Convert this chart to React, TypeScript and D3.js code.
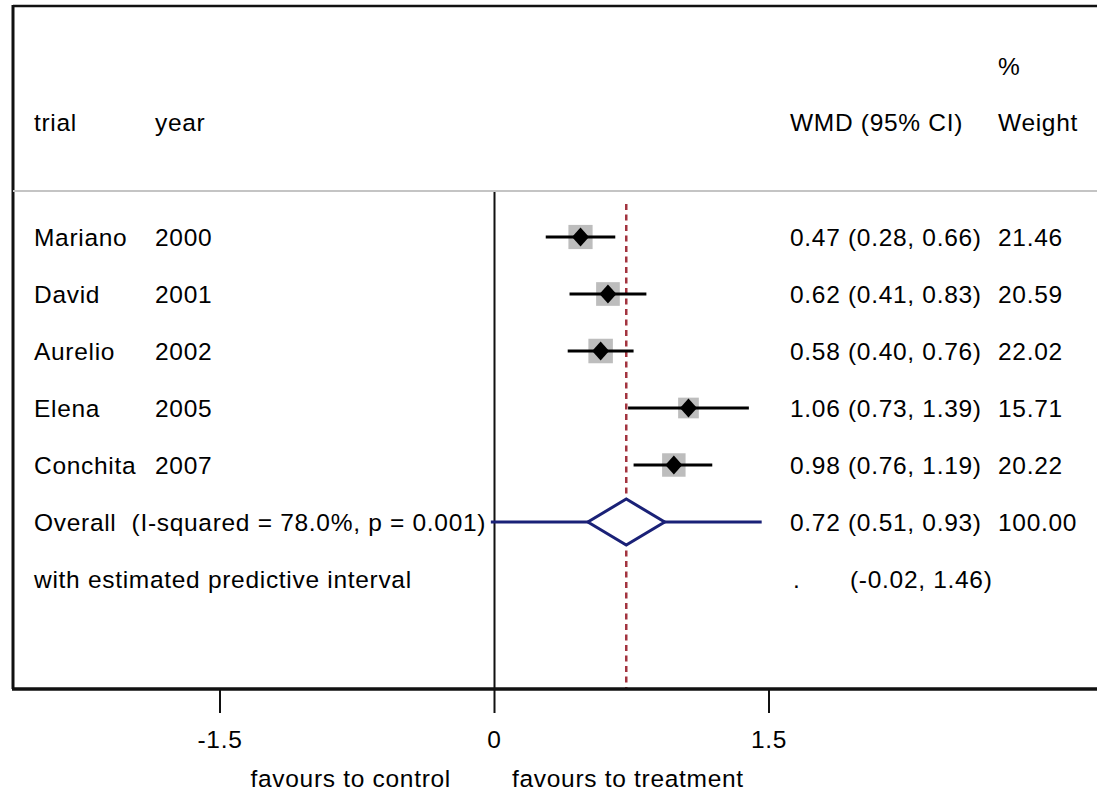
import React from "react";
import { scaleLinear, scaleSqrt, line } from "d3";

const trials = ["Mariano", "David", "Aurelio", "Elena", "Conchita"];
const years = [2000, 2001, 2002, 2005, 2007];
const wmd = [0.47, 0.62, 0.58, 1.06, 0.98];
const lower = [0.28, 0.41, 0.4, 0.73, 0.76];
const upper = [0.66, 0.83, 0.76, 1.39, 1.19];
const weights = [21.46, 20.59, 22.02, 15.71, 20.22];
const overall = [0.72, 0.51, 0.93];
const predictive = [-0.02, 1.46];
const tickValues = [-1.5, 0, 1.5];

const fmt = (v: number) => v.toFixed(2);

const W = 1097;
const H = 792;
const font = "'Liberation Sans', Arial, Helvetica, sans-serif";
const fs = 24.5;

const App = () => {
  const x = scaleLinear().domain([-1.5, 1.5]).range([220, 769]);
  const y = scaleLinear().domain([0, 6]).range([237, 579]);
  const box = scaleSqrt().domain([0, 22.02]).range([0, 24.5]);

  const axisY = 689;
  const ovY = y(5);
  const diamond = line()([
    [x(overall[1]), ovY],
    [x(overall[0]), ovY - 23],
    [x(overall[2]), ovY],
    [x(overall[0]), ovY + 23],
    [x(overall[1]), ovY],
  ]);

  const txt: React.CSSProperties = {
    fontFamily: font,
    fontSize: fs,
    fill: "#000",
    letterSpacing: 0.7,
    whiteSpace: "pre",
  };
  const dy = 8.5;

  return (
    <svg
      width={W}
      height={H}
      style={{ position: "absolute", left: 0, top: 0, background: "#fff" }}
    >
      {/* frame */}
      <line x1={13} x2={W} y1={6} y2={6} stroke="#111" strokeWidth={2.5} />
      <line x1={13} x2={13} y1={5} y2={axisY} stroke="#111" strokeWidth={3} />
      <line x1={13} x2={W} y1={191} y2={191} stroke="#c4c4c4" strokeWidth={2} />

      {/* headers */}
      <text x={998} y={66 + dy} style={txt}>%</text>
      <text x={34} y={122 + dy} style={txt}>trial</text>
      <text x={155} y={122 + dy} style={txt}>year</text>
      <text x={790} y={122 + dy} style={txt}>WMD (95% CI)</text>
      <text x={998} y={122 + dy} style={txt}>Weight</text>

      {/* null line */}
      <line x1={x(0)} x2={x(0)} y1={192} y2={axisY} stroke="#111" strokeWidth={2} />

      {/* overall effect dashed line */}
      <line
        x1={x(overall[0])}
        x2={x(overall[0])}
        y1={204}
        y2={axisY}
        stroke="#a3343f"
        strokeWidth={2.5}
        strokeDasharray="6 4.5"
      />

      {trials.map((t, i) => {
        const s = box(weights[i]);
        const cx = x(wmd[i]);
        const cy = y(i);
        return (
          <g key={t}>
            <rect x={cx - s / 2} y={cy - s / 2} width={s} height={s} fill="#bdbdbd" />
            <line x1={x(lower[i])} x2={x(upper[i])} y1={cy} y2={cy} stroke="#000" strokeWidth={3.2} />
            <path
              d={`M${cx - 8.5},${cy} L${cx},${cy - 9.5} L${cx + 8.5},${cy} L${cx},${cy + 9.5} Z`}
              fill="#000"
            />
            <text x={34} y={cy + dy} style={txt}>{t}</text>
            <text x={155} y={cy + dy} style={txt}>{years[i]}</text>
            <text x={790} y={cy + dy} style={txt}>
              {`${fmt(wmd[i])} (${fmt(lower[i])}, ${fmt(upper[i])})`}
            </text>
            <text x={998} y={cy + dy} style={txt}>{fmt(weights[i])}</text>
          </g>
        );
      })}

      {/* overall */}
      <line
        x1={x(predictive[0])}
        x2={x(predictive[1])}
        y1={ovY}
        y2={ovY}
        stroke="#1a2177"
        strokeWidth={3}
      />
      <path d={diamond ?? ""} fill="#fff" stroke="#1a2177" strokeWidth={3} />
      <text x={34} y={ovY + dy} style={txt}>{"Overall  (I-squared = 78.0%, p = 0.001)"}</text>
      <text x={790} y={ovY + dy} style={txt}>
        {`${fmt(overall[0])} (${fmt(overall[1])}, ${fmt(overall[2])})`}
      </text>
      <text x={998} y={ovY + dy} style={txt}>100.00</text>

      <text x={34} y={y(6) + dy} style={txt}>with estimated predictive interval</text>
      <text x={793} y={y(6) + dy} style={txt}>.</text>
      <text x={850} y={y(6) + dy} style={txt}>
        {`(${fmt(predictive[0])}, ${fmt(predictive[1])})`}
      </text>

      {/* x axis */}
      <line x1={12} x2={W} y1={axisY} y2={axisY} stroke="#111" strokeWidth={3.5} />
      {tickValues.map((v) => (
        <g key={v}>
          <line x1={x(v)} x2={x(v)} y1={axisY} y2={axisY + 24} stroke="#111" strokeWidth={2} />
          <text x={x(v)} y={axisY + 59} textAnchor="middle" style={txt}>
            {v === 0 ? "0" : String(v)}
          </text>
        </g>
      ))}
      <text x={451} y={787} textAnchor="end" style={txt}>favours to control</text>
      <text x={512} y={787} style={txt}>favours to treatment</text>
    </svg>
  );
};

export default App;
